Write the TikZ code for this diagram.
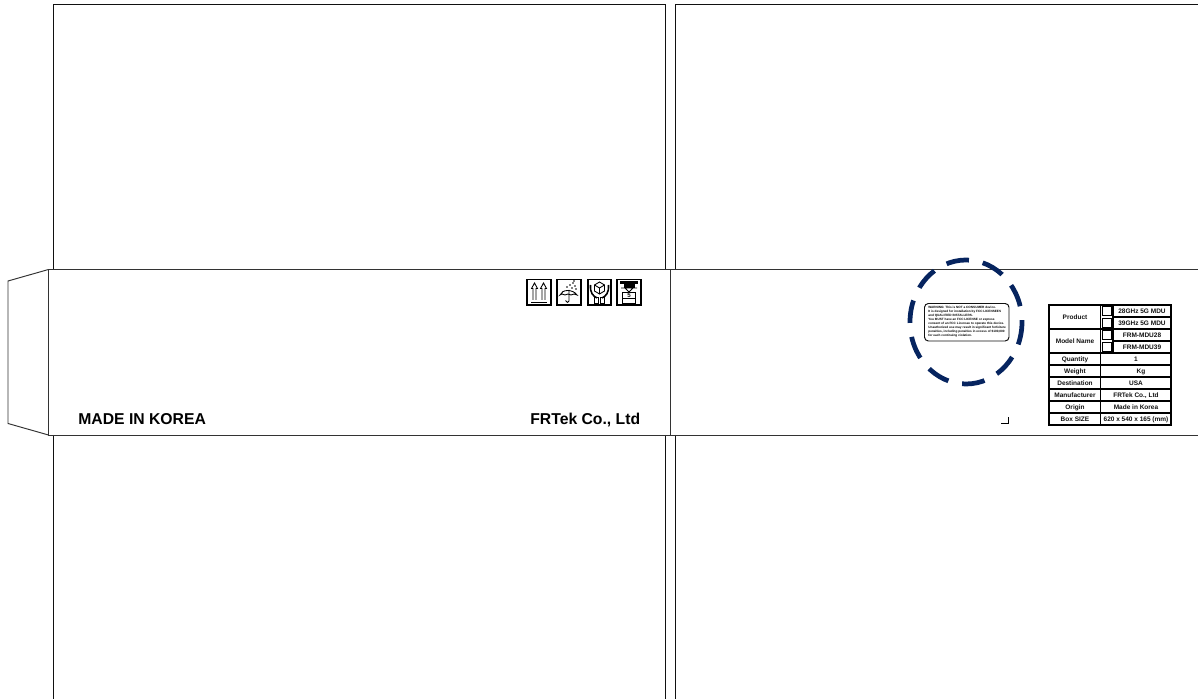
\documentclass[tikz,border=0pt]{standalone}
\usepackage{fontspec}
\setmainfont{Liberation Sans}
\usepackage{xcolor}
\usetikzlibrary{calc}
\definecolor{ink}{HTML}{111111}
\definecolor{fold}{HTML}{333333}
\definecolor{navy}{HTML}{06245F}
\tikzset{
  panel/.style={draw=ink, line width=0.55pt},
  foldline/.style={draw=fold, line width=0.55pt},
  tbl/.style={draw=black, line width=0.7pt},
  icon/.style={draw=black, line width=0.5pt},
  iconbox/.style={draw=black, line width=0.7pt},
  labb/.style={font=\bfseries\fontsize{8.95}{10}\selectfont, inner sep=0pt, text height=6.4pt, text depth=0pt},
  cell/.style={font=\bfseries\fontsize{3.7}{4.4}\selectfont, inner sep=0pt, text=ink, text height=2.7pt, text depth=0.1pt},
  warn/.style={font=\bfseries\fontsize{1.78}{2.27}\selectfont, inner sep=0pt, align=left}
}

\begin{document}
\begin{tikzpicture}[x=0.02cm,y=-0.02cm]
  \useasboundingbox (0,0) rectangle (1198,699);

  % top and bottom panels
  \draw[panel] (53,269.5)--(53,4.5)--(665.5,4.5)--(665.5,269.5);
  \draw[panel] (675,269.5)--(675,4.5)--(1198,4.5);
  \draw[panel] (53,435)--(53,699);
  \draw[panel] (665.5,435)--(665.5,699);
  \draw[panel] (675,435)--(675,699);

  % band and glue flap
  \draw[foldline] (1198,269.5)--(48.5,269.5)--(48.5,435)--(1198,435);
  \draw[foldline] (670.5,269.5)--(670.5,435);
  \draw[foldline] (48.5,269.5)--(8,281)--(8,423.5)--(48.5,435);

  \node[labb,anchor=west] (made) at (78,419) {MADE IN KOREA};
  \node[labb,anchor=east] (frtek) at (640.5,419) {FRTek Co., Ltd};

  % handling marks
  \draw[iconbox] (527,279.5) rectangle (551,305);
  \draw[iconbox] (557,279.5) rectangle (581,305);
  \draw[iconbox] (588,279.5) rectangle (611,305);
  \draw[iconbox] (617,279.5) rectangle (641,305);

  % this way up
  \draw[icon] (531,302)--(547,302);
  \foreach \x in {534.5,543.5} {
    \draw[icon] (\x-1.5,300)--(\x-1.5,288.5)--(\x-3,288.5)--(\x,283)--(\x+3,288.5)--(\x+1.5,288.5)--(\x+1.5,300);
  }

  % keep dry
  \draw[icon] (560,295) .. controls (562,289) and (573,289) .. (577,295)
    -- (574,294) -- (571,295) -- (568,294) -- (565,295) -- (562,294) -- cycle;
  \draw[icon] (569,290)--(569,301) .. controls (569,303) and (566,303) .. (565.5,300.5);
  \foreach \x/\y in {567/287,570/285,573/283,575/286,572/288,576/289,574/281} {
    \fill (\x,\y) circle (0.8);
  }

  % fragile
  \draw[icon] (599.5,282)--(604.5,285)--(604.5,291)--(599.5,294)--(594.5,291)--(594.5,285)--cycle;
  \draw[icon] (594.5,285)--(599.5,288)--(604.5,285) (599.5,288)--(599.5,294);
  \draw[icon,line width=0.9pt] (590.5,285) .. controls (590,293) and (593,296) .. (597,298);
  \draw[icon,line width=0.9pt] (608.5,285) .. controls (609,293) and (606,296) .. (602,298);
  \draw[icon] (594.5,297) rectangle (598.5,303);
  \draw[icon] (600.5,297) rectangle (604.5,303);

  % stacking limit
  \fill (620,281.5) rectangle (638,284);
  \fill (623.5,284) rectangle (634.5,288);
  \draw[icon] (621,288)--(637,288) (625,288)--(629,292)--(633,288);
  \draw[icon] (622.5,292) rectangle (635.5,303);
  \fill (622.5,298) rectangle (635.5,299.5);
  \node[cell] (stack) at (629,295) {\fontsize{3.5}{4}\selectfont 5};

  % warning label
  \draw[draw=ink, line width=0.55pt, rounded corners=2.2pt] (924.5,303.5) rectangle (1009,341);
  \node[warn,anchor=north west] (warning) at (928,306) {WARNING: This is NOT a CONSUMER device.\\It is designed for installation by FCC LICENSEES\\and QUALIFIED INSTALLERS.\\You MUST have an FCC LICENSE or express\\consent of an FCC Licensee to operate this device.\\Unauthorized use may result in significant forfeiture\\penalties, including penalties in excess of \$100,000\\for each continuing violation.};
  \draw[navy, line width=2.7pt, dash pattern=on 13pt off 8pt] (966,322) ellipse (56 and 62);

  % corner mark
  \draw[draw=black, line width=1.1pt] (1001,423.5)--(1008.5,423.5)--(1008.5,417);

  % spec table
  \draw[tbl] (1049,305) rectangle (1171,425);
  \draw[tbl] (1100.5,305)--(1100.5,425);
  \draw[tbl] (1049,329)--(1171,329);
  \foreach \y in {353,365,377,389,401,413} {
    \draw[tbl] (1049,\y)--(1171,\y);
  }
  \foreach \y in {317,341} {
    \draw[tbl] (1113,\y)--(1171,\y);
  }
  \foreach \y in {306.5,318.5,330.5,342.5} {
    \draw[draw=black, line width=0.55pt] (1102.5,\y) rectangle (1111.5,\y+9);
  }
  \draw[tbl] (1113,305)--(1113,353);
  \node[cell] (product) at (1075,317) {Product};
  \node[cell] (model) at (1075,341) {Model Name};
  \node[cell] (ghz28) at (1142,311) {28GHz 5G MDU};
  \node[cell] (ghz39) at (1142,323) {39GHz 5G MDU};
  \node[cell] (mdu28) at (1142,335) {FRM-MDU28};
  \node[cell] (mdu39) at (1142,347) {FRM-MDU39};
  \node[cell] (quantity) at (1075,359) {Quantity};
  \node[cell] (weight) at (1075,371) {Weight};
  \node[cell] (dest) at (1075,383) {Destination};
  \node[cell] (manu) at (1075,395) {Manufacturer};
  \node[cell] (origin) at (1075,407) {Origin};
  \node[cell] (size) at (1075,419) {Box SIZE};
  \node[cell] (qtyval) at (1136,359) {1};
  \node[cell] (kg) at (1141,371) {Kg};
  \node[cell] (usa) at (1136,383) {USA};
  \node[cell] (maker) at (1136,395) {FRTek Co., Ltd};
  \node[cell] (made2) at (1136,407) {Made in Korea};
  \node[cell] (boxval) at (1136,419) {620 x 540 x 165 (mm)};
\end{tikzpicture}
\end{document}
